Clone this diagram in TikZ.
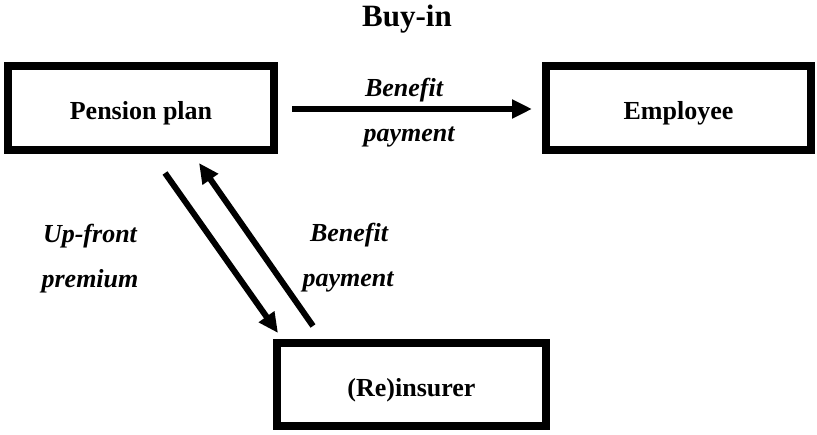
\documentclass[tikz,border=0pt]{standalone}
\usepackage{fontspec}
\setmainfont{Liberation Serif}
\usetikzlibrary{arrows.meta}
\begin{document}
\begin{tikzpicture}[x=1pt,y=-1pt,
  boxnode/.style={draw=black,line width=8.5pt,minimum width=#1,minimum height=84pt,inner sep=0pt,
    font=\fontsize{26}{30}\selectfont\bfseries,text height=24pt,text depth=0pt},
  lbl/.style={anchor=base,inner sep=0pt,font=\fontsize{26}{30}\selectfont\bfseries\itshape},
  flow/.style={line width=6pt,-{Triangle[length=20pt,width=18pt]}}]
\useasboundingbox (0,0) rectangle (817,435);
\node[anchor=base,inner sep=0pt,font=\fontsize{31}{36}\selectfont\bfseries] (title) at (407,27) {Buy-in};
\node[boxnode=266pt] (pp) at (141,108) {Pension plan};
\node[boxnode=265pt] (emp) at (678.5,108) {Employee};
\node[boxnode=269pt,minimum height=83pt] (re) at (411.5,384.5) {(Re)insurer};
\coordinate (h1) at (292,109);
\coordinate (h2) at (532,109);
\coordinate (d1) at (165,173);
\coordinate (d2) at (278,333);
\coordinate (u1) at (313,326);
\coordinate (u2) at (199,163);
\draw[flow] (h1) -- (h2);
\draw[flow] (d1) -- (d2);
\draw[flow] (u1) -- (u2);
\node[lbl] (l1) at (404,97) {Benefit};
\node[lbl] (l2) at (409,142) {payment};
\node[lbl] (l3) at (90,243) {Up-front};
\node[lbl] (l4) at (90,288) {premium};
\node[lbl] (l5) at (349,242) {Benefit};
\node[lbl] (l6) at (348,287) {payment};
\end{tikzpicture}
\end{document}
